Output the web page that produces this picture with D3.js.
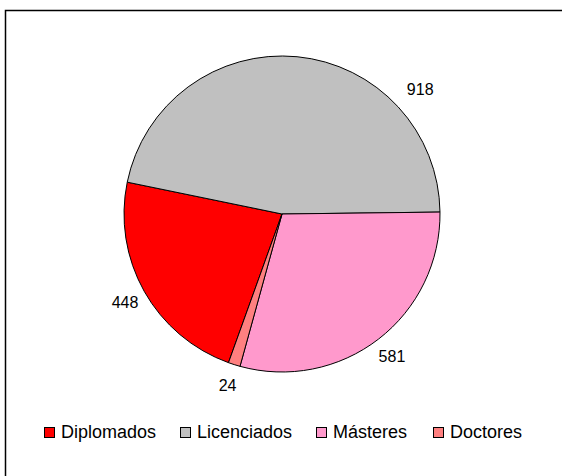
<!DOCTYPE html>
<html>
<head>
<meta charset="utf-8">
<script src="https://cdn.jsdelivr.net/npm/d3@7"></script>
<style>
  html, body { margin: 0; padding: 0; background: #fff; }
  svg { display: block; }
  text { font-family: Arial, "Liberation Sans", sans-serif; fill: #000; }
</style>
</head>
<body>
<svg id="chart" width="562" height="476"></svg>
<script>
// ---- data ----
const categories = ["Diplomados", "Licenciados", "Másteres", "Doctores"];
const values = [448, 918, 581, 24];
const colors = ["#FF0000", "#C0C0C0", "#FF99CC", "#FF8080"];

// ---- layout ----
const cx = 282, cy = 214, R = 158;
const startDeg = 199.8;
const labelRadius = 180;
// Licenciados label sits off its mid-angle in the original
const labelAngleOverride = { 1: 48 };
const labelRadiusOverride = { 1: 186 };

const svg = d3.select("#chart");

// frame
svg.append("rect")
  .attr("x", 5.5).attr("y", 10.5)
  .attr("width", 700).attr("height", 600)
  .attr("fill", "none").attr("stroke", "#000").attr("stroke-width", 1.5);

const pie = d3.pie().sort(null).value(d => d)
  .startAngle(startDeg * Math.PI / 180)
  .endAngle((startDeg + 360) * Math.PI / 180);
const arcs = pie(values);
const arc = d3.arc().innerRadius(0).outerRadius(R);

const g = svg.append("g").attr("transform", `translate(${cx},${cy})`);
g.selectAll("path").data(arcs).enter().append("path")
  .attr("d", arc)
  .attr("fill", (d, i) => colors[i])
  .attr("stroke", "#000").attr("stroke-width", 1)
  .attr("stroke-linejoin", "round");

function labelPos(d, i) {
  const a = labelAngleOverride[i] !== undefined ? labelAngleOverride[i] * Math.PI / 180 : (d.startAngle + d.endAngle) / 2;
  const r = labelRadiusOverride[i] !== undefined ? labelRadiusOverride[i] : labelRadius;
  return [r * Math.sin(a), -r * Math.cos(a)];
}

g.selectAll("text.lbl").data(arcs).enter().append("text")
  .attr("class", "lbl")
  .attr("x", (d, i) => labelPos(d, i)[0])
  .attr("y", (d, i) => labelPos(d, i)[1])
  .attr("dy", "0.36em")
  .attr("text-anchor", "middle")
  .attr("font-size", 16)
  .text(d => d.data);

// legend
const legTextX = [61, 197, 333, 450];
const baseline = 438;
const lg = svg.append("g");
categories.forEach((c, i) => {
  lg.append("rect")
    .attr("x", legTextX[i] - 16.5).attr("y", baseline - 10.5)
    .attr("width", 10).attr("height", 10)
    .attr("fill", colors[i]).attr("stroke", "#000").attr("stroke-width", 1);
  lg.append("text")
    .attr("x", legTextX[i]).attr("y", baseline)
    .attr("font-size", 18)
    .text(c);
});
</script>
</body>
</html>
